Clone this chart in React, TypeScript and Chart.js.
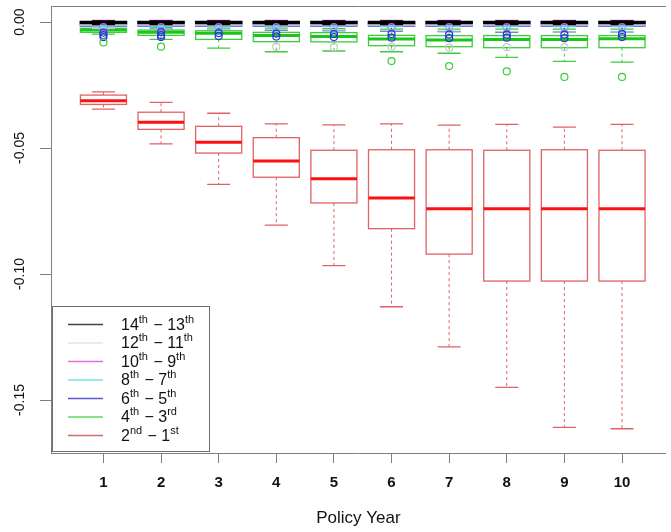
import React, { useEffect, useRef } from "react";
import { Chart, registerables } from "chart.js";
Chart.register(...registerables);

// ---------- data ----------
const years = [1, 2, 3, 4, 5, 6, 7, 8, 9, 10];
const yTicks = [0, -0.05, -0.1, -0.15];
const yTickLabels = ["0.00", "-0.05", "-0.10", "-0.15"];
const xTitle = "Policy Year";

// legend: [number, suffix, number, suffix]
const legendLabels = [
  ["14", "th", "13", "th"],
  ["12", "th", "11", "th"],
  ["10", "th", "9", "th"],
  ["8", "th", "7", "th"],
  ["6", "th", "5", "th"],
  ["4", "th", "3", "rd"],
  ["2", "nd", "1", "st"],
];
const legendColors = ["#444444", "#e4e4e4", "#e070e0", "#70e0e8", "#5a5ad0", "#60d860", "#d86a6a"];

// 2nd - 1st (red)
const redHigh = [-0.0277, -0.0319, -0.0362, -0.0404, -0.0408, -0.0404, -0.0409, -0.0406, -0.0417, -0.0406];
const redQ3 = [-0.029, -0.0358, -0.0414, -0.0459, -0.0509, -0.0507, -0.0507, -0.0509, -0.0507, -0.0509];
const redMed = [-0.0312, -0.0398, -0.0477, -0.0552, -0.0622, -0.0698, -0.0741, -0.0741, -0.0741, -0.0741];
const redQ1 = [-0.0327, -0.0426, -0.052, -0.0616, -0.0718, -0.082, -0.0921, -0.1028, -0.1028, -0.1028];
const redLow = [-0.0346, -0.0484, -0.0644, -0.0806, -0.0967, -0.113, -0.1289, -0.145, -0.1609, -0.1614];
const redOut: number[][] = [[], [], [], [], [], [], [], [], [], []];

// 4th - 3rd (green)
const greenHigh = [-0.0018, -0.0022, -0.0024, -0.0024, -0.0026, -0.0028, -0.0028, -0.0028, -0.0028, -0.0028];
const greenQ3 = [-0.0025, -0.0032, -0.0035, -0.0041, -0.0042, -0.0053, -0.0054, -0.0054, -0.0054, -0.0054];
const greenMed = [-0.0032, -0.0041, -0.0045, -0.0054, -0.0058, -0.0067, -0.0071, -0.0069, -0.0069, -0.0066];
const greenQ1 = [-0.0041, -0.0053, -0.0069, -0.0078, -0.0079, -0.0094, -0.0098, -0.0102, -0.0102, -0.0102];
const greenLow = [-0.0048, -0.0069, -0.0104, -0.0118, -0.0115, -0.0118, -0.0124, -0.014, -0.0156, -0.0159];
const greenOut = [[-0.0081], [-0.0098], [], [], [], [-0.0155], [-0.0175], [-0.0196], [-0.0218], [-0.0218]];

// 6th - 5th (blue)
const blueHigh = [0.0004, 0.0004, 0.0004, 0.0004, 0.0004, 0.0004, 0.0004, 0.0004, 0.0004, 0.0004];
const blueQ3 = [0.0002, 0.0002, 0.0002, 0.0002, 0.0002, 0.0002, 0.0002, 0.0002, 0.0002, 0.0002];
const blueMed = [-0.0006, -0.0006, -0.0006, -0.0006, -0.0006, -0.0006, -0.0006, -0.0006, -0.0006, -0.0006];
const blueQ1 = [-0.0016, -0.0016, -0.0016, -0.0016, -0.0016, -0.0016, -0.0016, -0.0016, -0.0016, -0.0016];
const blueLow = [-0.0026, -0.0028, -0.003, -0.0032, -0.0034, -0.0036, -0.0038, -0.004, -0.004, -0.004];
const blueOut = [
  [-0.0042, -0.0052, -0.006],
  [-0.004, -0.0052, -0.006],
  [-0.0044, -0.0056],
  [-0.0046, -0.0058],
  [-0.0048, -0.006],
  [-0.0048, -0.0062],
  [-0.005, -0.0064],
  [-0.005, -0.0062],
  [-0.005, -0.0064],
  [-0.0048, -0.006],
];

// 8th - 7th (cyan)
const cyanHigh = [0.0002, 0.0002, 0.0002, 0.0002, 0.0002, 0.0002, 0.0002, 0.0002, 0.0002, 0.0002];
const cyanQ3 = [-0.0004, -0.0004, -0.0004, -0.0004, -0.0004, -0.0004, -0.0004, -0.0004, -0.0004, -0.0004];
const cyanMed = [-0.0008, -0.0008, -0.0008, -0.0008, -0.0008, -0.0008, -0.0008, -0.0008, -0.0008, -0.0008];
const cyanQ1 = [-0.0012, -0.0012, -0.0012, -0.0012, -0.0012, -0.0012, -0.0012, -0.0012, -0.0012, -0.0012];
const cyanLow = [-0.0018, -0.0018, -0.0018, -0.0018, -0.0018, -0.0018, -0.0018, -0.0018, -0.0018, -0.0018];
const cyanOut = [[-0.0026], [-0.0026], [-0.0026], [-0.0026], [-0.0026], [-0.0026], [-0.0026], [-0.0026], [-0.0026], [-0.0026]];

// 10th - 9th (magenta)
const magentaHigh = [0.0006, 0.0006, 0.0006, 0.0006, 0.0006, 0.0006, 0.0006, 0.0006, 0.0006, 0.0006];
const magentaQ3 = [0.0, 0.0, 0.0, 0.0, 0.0, 0.0, 0.0, 0.0, 0.0, 0.0];
const magentaMed = [-0.0004, -0.0004, -0.0004, -0.0004, -0.0004, -0.0004, -0.0004, -0.0004, -0.0004, -0.0004];
const magentaQ1 = [-0.0008, -0.0008, -0.0008, -0.0008, -0.0008, -0.0008, -0.0008, -0.0008, -0.0008, -0.0008];
const magentaLow = [-0.0014, -0.0014, -0.0014, -0.0014, -0.0014, -0.0014, -0.0014, -0.0014, -0.0014, -0.0014];
const magentaOut = [[-0.002], [-0.002], [-0.002], [-0.002], [-0.002], [-0.002], [-0.002], [-0.002], [-0.002], [-0.002]];

// 12th - 11th (light gray)
const grayHigh = [0.0002, 0.0002, 0.0002, 0.0002, 0.0002, 0.0002, 0.0002, 0.0002, 0.0002, 0.0002];
const grayQ3 = [-0.0002, -0.0002, -0.0002, -0.0002, -0.0002, -0.0002, -0.0002, -0.0002, -0.0002, -0.0002];
const grayMed = [-0.0006, -0.0006, -0.0006, -0.0006, -0.0006, -0.0006, -0.0006, -0.0006, -0.0006, -0.0006];
const grayQ1 = [-0.0012, -0.0012, -0.0012, -0.0012, -0.0012, -0.0012, -0.0012, -0.0012, -0.0012, -0.0012];
const grayLow = [-0.0026, -0.0028, -0.003, -0.003, -0.0032, -0.0034, -0.0036, -0.0038, -0.004, -0.004];
const grayOut = [[], [], [], [-0.0098], [-0.01], [-0.0098], [-0.0102], [-0.01], [-0.01], []];

// 14th - 13th (black)
const blackHigh = [0.0004, 0.0004, 0.0004, 0.0004, 0.0004, 0.0004, 0.0004, 0.0004, 0.0004, 0.0004];
const blackQ3 = [0.0002, 0.0002, 0.0002, 0.0002, 0.0002, 0.0002, 0.0002, 0.0002, 0.0002, 0.0002];
const blackMed = [-0.0002, -0.0002, -0.0002, -0.0002, -0.0002, -0.0002, -0.0002, -0.0002, -0.0002, -0.0002];
const blackQ1 = [-0.0006, -0.0006, -0.0006, -0.0006, -0.0006, -0.0006, -0.0006, -0.0006, -0.0006, -0.0006];
const blackLow = [-0.001, -0.001, -0.001, -0.001, -0.001, -0.001, -0.001, -0.001, -0.001, -0.001];
const blackOut: number[][] = [[], [], [], [], [], [], [], [], [], []];

// ---------- styling ----------
const FONT = "'Liberation Sans', Arial, sans-serif";
const FRAME = "#7f7f7f";
const BOX_HALF = 0.4;
const STAPLE_HALF = 0.2;

type Series = {
  name: string; edge: string; median: string; medianWidth: number;
  high: number[]; q3: number[]; med: number[]; q1: number[]; low: number[]; out: number[][];
};

// drawing order: red first, black last
const series: Series[] = [
  { name: "2nd-1st", edge: "#e06262", median: "#ff1010", medianWidth: 3, high: redHigh, q3: redQ3, med: redMed, q1: redQ1, low: redLow, out: redOut },
  { name: "4th-3rd", edge: "#3ccc3c", median: "#18c818", medianWidth: 3, high: greenHigh, q3: greenQ3, med: greenMed, q1: greenQ1, low: greenLow, out: greenOut },
  { name: "6th-5th", edge: "#3030e0", median: "#2020d8", medianWidth: 3, high: blueHigh, q3: blueQ3, med: blueMed, q1: blueQ1, low: blueLow, out: blueOut },
  { name: "8th-7th", edge: "#50e0f0", median: "#50e0f0", medianWidth: 2, high: cyanHigh, q3: cyanQ3, med: cyanMed, q1: cyanQ1, low: cyanLow, out: cyanOut },
  { name: "10th-9th", edge: "#e050e0", median: "#e050e0", medianWidth: 2, high: magentaHigh, q3: magentaQ3, med: magentaMed, q1: magentaQ1, low: magentaLow, out: magentaOut },
  { name: "12th-11th", edge: "#c8c8c8", median: "#c8c8c8", medianWidth: 2, high: grayHigh, q3: grayQ3, med: grayMed, q1: grayQ1, low: grayLow, out: grayOut },
  { name: "14th-13th", edge: "#000000", median: "#000000", medianWidth: 3, high: blackHigh, q3: blackQ3, med: blackMed, q1: blackQ1, low: blackLow, out: blackOut },
];

const boxPlugin = {
  id: "boxplots",
  beforeDatasetsDraw(chart: any) {
    const { ctx, scales } = chart;
    const x = scales.x;
    const y = scales.y;
    ctx.save();
    for (const s of series) {
      for (let i = 0; i < years.length; i++) {
        const xc = x.getPixelForValue(years[i]);
        const xl = x.getPixelForValue(years[i] - BOX_HALF);
        const xr = x.getPixelForValue(years[i] + BOX_HALF);
        const sl = x.getPixelForValue(years[i] - STAPLE_HALF);
        const sr = x.getPixelForValue(years[i] + STAPLE_HALF);
        const yH = y.getPixelForValue(s.high[i]);
        const y3 = y.getPixelForValue(s.q3[i]);
        const yM = y.getPixelForValue(s.med[i]);
        const y1 = y.getPixelForValue(s.q1[i]);
        const yL = y.getPixelForValue(s.low[i]);
        ctx.strokeStyle = s.edge;
        ctx.lineWidth = 1;
        // whiskers
        ctx.setLineDash([3, 3]);
        ctx.beginPath();
        ctx.moveTo(xc, y3); ctx.lineTo(xc, yH);
        ctx.moveTo(xc, y1); ctx.lineTo(xc, yL);
        ctx.stroke();
        ctx.setLineDash([]);
        // staples
        ctx.lineWidth = 1.3;
        ctx.beginPath();
        ctx.moveTo(sl, yH); ctx.lineTo(sr, yH);
        ctx.moveTo(sl, yL); ctx.lineTo(sr, yL);
        ctx.stroke();
        // box
        ctx.lineWidth = 1.3;
        ctx.strokeRect(xl, y3, xr - xl, y1 - y3);
        // median
        ctx.strokeStyle = s.median;
        ctx.lineWidth = s.medianWidth;
        ctx.beginPath();
        ctx.moveTo(xl, yM); ctx.lineTo(xr, yM);
        ctx.stroke();
      }
    }
    ctx.restore();
  },
};

const legendPlugin = {
  id: "boxLegend",
  afterDraw(chart: any) {
    const { ctx, chartArea } = chart;
    const left = chartArea.left + 1;
    const bottom = chartArea.bottom - 1;
    const w = 158;
    const h = 146;
    const top = bottom - h;
    ctx.save();
    ctx.fillStyle = "#ffffff";
    ctx.fillRect(left, top, w, h);
    ctx.strokeStyle = "#6f6f6f";
    ctx.lineWidth = 1;
    ctx.strokeRect(left + 0.5, top + 0.5, w - 1, h - 1);
    for (let r = 0; r < legendLabels.length; r++) {
      const cy = top + 18.5 + r * 18.5;
      ctx.strokeStyle = legendColors[r];
      ctx.lineWidth = 1.5;
      ctx.beginPath();
      ctx.moveTo(left + 16, cy);
      ctx.lineTo(left + 51, cy);
      ctx.stroke();
      const [a, sa, b, sb] = legendLabels[r];
      let tx = left + 69;
      ctx.fillStyle = "#111111";
      ctx.textBaseline = "middle";
      ctx.textAlign = "left";
      ctx.font = `16px ${FONT}`;
      ctx.fillText(a, tx, cy + 1);
      tx += ctx.measureText(a).width;
      ctx.font = `11px ${FONT}`;
      ctx.fillText(sa, tx, cy - 5);
      tx += ctx.measureText(sa).width + 1;
      ctx.font = `16px ${FONT}`;
      const dash = " \u2212 ";
      ctx.fillText(dash, tx, cy + 1);
      tx += ctx.measureText(dash).width;
      ctx.fillText(b, tx, cy + 1);
      tx += ctx.measureText(b).width;
      ctx.font = `11px ${FONT}`;
      ctx.fillText(sb, tx, cy - 5);
    }
    ctx.restore();
  },
};

export default function App() {
  const ref = useRef<HTMLCanvasElement>(null);
  useEffect(() => {
    const canvas = ref.current;
    if (!canvas) return;
    const datasets = series
      .map((s) => ({
        label: s.name,
        data: s.out.flatMap((vals, i) => vals.map((v) => ({ x: years[i], y: v }))),
        pointStyle: "circle",
        pointRadius: 3.5,
        pointBorderWidth: 1.2,
        pointBorderColor: s.edge,
        pointBackgroundColor: "rgba(0,0,0,0)",
        showLine: false,
      }));
    const chart = new Chart(canvas, {
      type: "scatter",
      data: { datasets },
      plugins: [boxPlugin, legendPlugin],
      options: {
        animation: false,
        responsive: false,
        devicePixelRatio: 1,
        layout: { padding: { top: 0, right: 0, bottom: 0, left: 0 } },
        plugins: { legend: { display: false }, tooltip: { enabled: false } },
        scales: {
          x: {
            type: "linear",
            position: "bottom",
            min: 0.09,
            max: 10.76,
            afterBuildTicks: (s: any) => { s.ticks = years.map((v) => ({ value: v })); },
            afterFit: (s: any) => { s.height = 79; s.paddingLeft = 0; s.paddingRight = 0; },
            ticks: {
              callback: (_v: any, i: number) => String(years[i]),
              font: { family: FONT, size: 15, weight: "bold" },
              color: "#111111",
              padding: 11,
              maxRotation: 0,
              autoSkip: false,
            },
            grid: { drawOnChartArea: false, drawTicks: true, tickLength: 10, color: FRAME },
            border: { display: true, color: FRAME, width: 1 },
            title: {
              display: true,
              text: xTitle,
              font: { family: FONT, size: 17 },
              color: "#111111",
              padding: { top: 0, bottom: 3 },
            },
          },
          xTop: {
            type: "linear",
            position: "top",
            min: 0.09,
            max: 10.76,
            afterFit: (s: any) => { s.height = 6; s.paddingLeft = 0; s.paddingRight = 0; },
            ticks: { display: false },
            grid: { drawOnChartArea: false, drawTicks: false },
            border: { display: true, color: FRAME, width: 1 },
          },
          y: {
            type: "linear",
            position: "left",
            min: -0.17103,
            max: 0.00635,
            afterBuildTicks: (s: any) => { s.ticks = yTicks.map((v) => ({ value: v })); },
            afterFit: (s: any) => { s.width = 51; s.paddingTop = 0; s.paddingBottom = 0; },
            ticks: {
              callback: (_v: any, i: number) => yTickLabels[i],
              minRotation: 90,
              maxRotation: 90,
              crossAlign: "center",
              font: { family: FONT, size: 14 },
              color: "#111111",
              padding: 4,
              autoSkip: false,
            },
            grid: { drawOnChartArea: false, drawTicks: true, tickLength: 11, color: FRAME },
            border: { display: true, color: FRAME, width: 1 },
          },
        },
      } as any,
    });
    return () => chart.destroy();
  }, []);
  return (
    <div style={{ position: "fixed", left: 0, top: 0, width: 671, height: 532, background: "#ffffff" }}>
      <canvas ref={ref} width={671} height={532} style={{ display: "block", width: 671, height: 532 }} />
    </div>
  );
}
